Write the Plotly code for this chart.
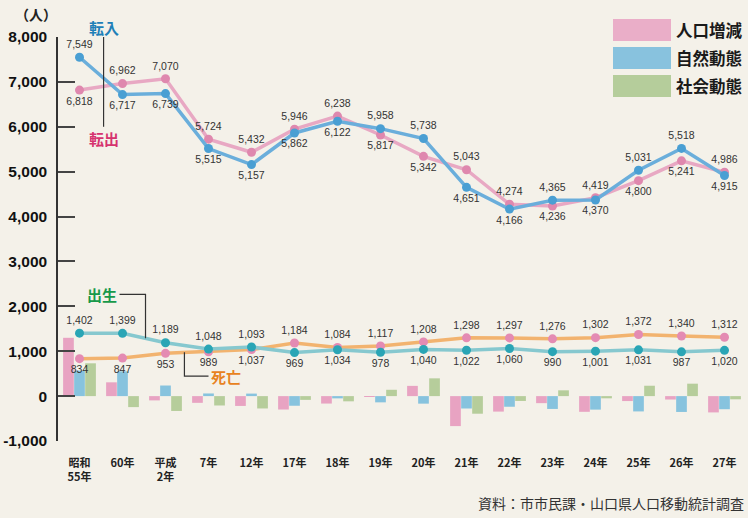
import plotly.graph_objects as go

# categories (years)
years = ["昭和<br>55年", "60年", "平成<br>2年", "7年", "12年", "17年", "18年", "19年",
         "20年", "21年", "22年", "23年", "24年", "25年", "26年", "27年"]

# migration (転入 / 転出)
tennyu = [7549, 6717, 6739, 5515, 5157, 5862, 6122, 5958, 5738, 4651, 4166, 4365, 4370, 5031, 5518, 4915]
tenshutsu = [6818, 6962, 7070, 5724, 5432, 5946, 6238, 5817, 5342, 5043, 4274, 4236, 4419, 4800, 5241, 4986]

# births / deaths
shussei = [1402, 1399, 1189, 1048, 1093, 969, 1034, 978, 1040, 1022, 1060, 990, 1001, 1031, 987, 1020]
shibou = [834, 847, 953, 989, 1037, 1184, 1084, 1117, 1208, 1298, 1297, 1276, 1302, 1372, 1340, 1312]

# bars
jinko_zogen = [1299, 307, -95, -150, -219, -299, -166, 2, 228, -668, -345, -157, -350, -110, -76, -363]
shizen = [568, 552, 236, 59, 56, -215, -50, -139, -168, -276, -237, -286, -301, -341, -353, -292]
shakai = [731, -245, -331, -209, -275, -84, -116, 141, 396, -392, -108, 129, -49, 231, 277, -71]

y_tickvals = [-1000, 0, 1000, 2000, 3000, 4000, 5000, 6000, 7000, 8000]
y_ticktext = ["-1,000", "0", "1,000", "2,000", "3,000", "4,000", "5,000", "6,000", "7,000", "8,000"]

BG = "#f4f1e9"
PINK_BAR, BLUE_BAR, GREEN_BAR = "#e8a3c2", "#87c3de", "#b6cd9b"
LBL_FONT = dict(family="Liberation Sans, Arial", size=10.5, color="#333")
JP = "Noto Sans CJK JP"

Y_MIN, Y_MAX = -1000, 8000
PLOT_H = 404  # px height of plot area


def pos(a, b):
    return ["top center" if x >= y else "bottom center" for x, y in zip(a, b)]


def fmt(vals):
    return [f"{v:,}" for v in vals]


fig = go.Figure()

for name, vals, col in [("人口増減", jinko_zogen, PINK_BAR),
                        ("自然動態", shizen, BLUE_BAR),
                        ("社会動態", shakai, GREEN_BAR)]:
    fig.add_trace(go.Bar(x=years, y=vals, name=name, marker=dict(color=col, line=dict(width=0))))

lines = [
    ("死亡", shibou, shussei, "#f2b36f", "#e48bb3"),
    ("出生", shussei, shibou, "#86c8cf", "#2aa5b5"),
    ("転出", tenshutsu, tennyu, "#e8a8c3", "#df88ae"),
    ("転入", tennyu, tenshutsu, "#6aaedb", "#4a9fd3"),
]
for name, vals, other, lc, mc in lines:
    fig.add_trace(go.Scatter(
        x=years, y=vals, name=name, mode="lines+markers+text",
        line=dict(color=lc, width=3.5),
        marker=dict(color=mc, size=9),
        text=fmt(vals), textposition=pos(vals, other),
        textfont=LBL_FONT, cliponaxis=False,
    ))

shapes = []
annotations = []

# legend boxes
legend = [("人口増減", "#eaaec8"), ("自然動態", "#88c2de"), ("社会動態", "#b5cd9b")]
for i, (txt, col) in enumerate(legend):
    y_top = 1 - (19 + i * 28 - 37) / PLOT_H
    shapes.append(dict(type="rect", xref="paper", yref="paper",
                       x0=(613 - 58) / 688, x1=(671 - 58) / 688,
                       y0=y_top - 22 / PLOT_H, y1=y_top,
                       fillcolor=col, line=dict(width=0)))
    annotations.append(dict(text=f"<b>{txt}</b>", xref="paper", yref="paper",
                            x=(674 - 58) / 688, y=y_top - 11 / PLOT_H,
                            xanchor="left", yanchor="middle", showarrow=False,
                            font=dict(family=JP, size=16.5, color="#1a1a1a")))

LEAD = dict(color="#333", width=1.2)
# 転入 / 転出 leader
shapes.append(dict(type="line", xref="x", yref="y", x0=0.56, x1=0.56, y0=8000, y1=6000, line=LEAD))
annotations.append(dict(text="<b>転入</b>", xref="x", yref="paper", x=0.56, y=1 + 9 / PLOT_H,
                        yanchor="middle", showarrow=False,
                        font=dict(family=JP, size=15, color="#1f80b8")))
annotations.append(dict(text="<b>転出</b>", xref="x", yref="y", x=0.56, y=5750, showarrow=False,
                        font=dict(family=JP, size=15, color="#d6336f")))
# 出生 leader
shapes.append(dict(type="path", xref="x", yref="y",
                   path="M 0.93 2267 L 1.535 2267 L 1.535 1290", line=LEAD))
annotations.append(dict(text="<b>出生</b>", xref="x", yref="y", x=0.93, y=2267, xanchor="right",
                        showarrow=False, font=dict(family=JP, size=15, color="#17994a")))
# 死亡 leader
shapes.append(dict(type="path", xref="x", yref="y",
                   path="M 2.44 975 L 2.44 444 L 3.0 444", line=LEAD))
annotations.append(dict(text="<b>死亡</b>", xref="x", yref="y", x=3.02, y=444, xanchor="left",
                        showarrow=False, font=dict(family=JP, size=15, color="#e8821e")))

annotations.append(dict(text="<b>（人）</b>", xref="paper", yref="paper", x=(36 - 58) / 688, y=1.0,
                        yanchor="bottom", xanchor="center", yshift=11, showarrow=False,
                        font=dict(family=JP, size=14, color="#222")))
annotations.append(dict(text="資料：市市民課・山口県人口移動統計調査", xref="paper", yref="paper",
                        x=1.0, y=0, xanchor="right", yanchor="middle", yshift=-62, showarrow=False,
                        font=dict(family=JP, size=14, color="#333")))

fig.update_layout(
    width=748, height=518,
    margin=dict(l=58, r=2, t=37, b=77),
    paper_bgcolor=BG, plot_bgcolor=BG,
    barmode="group", bargap=0.23, bargroupgap=0.03,
    showlegend=False,
    shapes=shapes, annotations=annotations,
    xaxis=dict(type="category", range=[-0.5, 15.5], showgrid=False, showline=False,
               ticks="", ticklabelstandoff=14,
               tickfont=dict(family=JP, size=11, color="#222", weight="bold"), fixedrange=True),
    xaxis2=dict(type="linear", overlaying="x", anchor="free",
                position=(0 - Y_MIN) / (Y_MAX - Y_MIN),
                range=[-0.5, 15.5], tick0=-0.5, dtick=1,
                ticks="inside", ticklen=10, tickwidth=1.5, tickcolor="#444",
                showline=True, linecolor="#333", linewidth=1.5,
                showticklabels=False, showgrid=False, zeroline=False),
    yaxis=dict(range=[Y_MIN, Y_MAX], tickvals=y_tickvals, ticktext=y_ticktext,
               showgrid=False, zeroline=False, showline=True, linecolor="#333", linewidth=1.5,
               ticks="inside", ticklen=17, tickwidth=1.5, tickcolor="#444",
               ticklabelstandoff=6,
               tickfont=dict(family="Liberation Sans, Arial", size=15.5, color="#111", weight="bold")),
)

# drop the page's default body margin so the figure sits at the window's corner
fig.write_html("out.html", config={"displayModeBar": False},
               post_script="document.body.style.margin='0';")
